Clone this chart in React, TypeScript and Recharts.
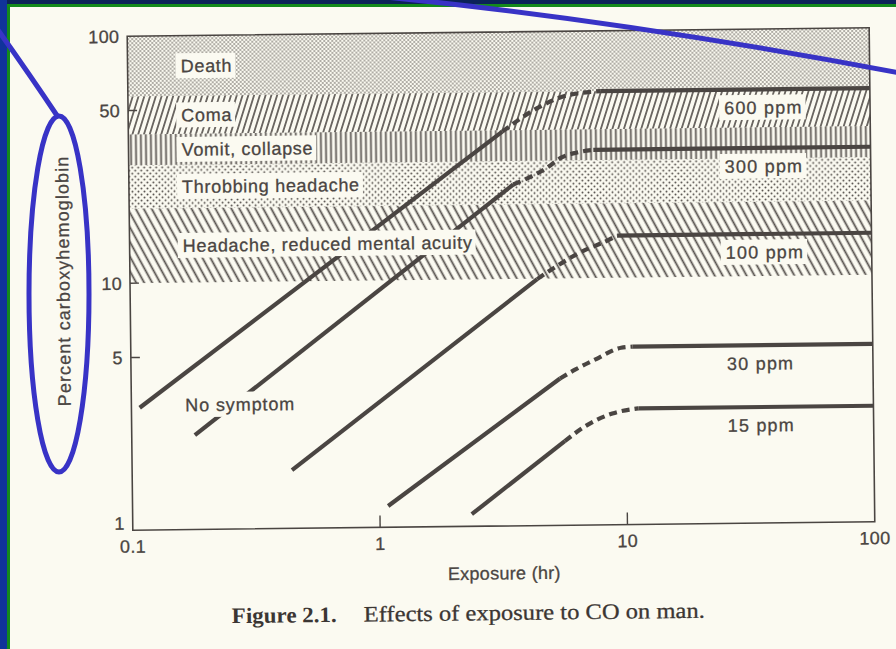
import React from "react";
import { LineChart, Line, XAxis, YAxis, ReferenceArea, ReferenceDot } from "recharts";

const PAPER = "#fbfaf1";
const INK = "#4a4542";
const HATCH = "#55504c";
const BLUE = "#3833c6";
const SANS = '"Liberation Sans", Arial, Helvetica, sans-serif';
const SERIF = '"Liberation Serif", "Times New Roman", serif';
const FS = 18;

const W = 896;
const H = 649;

// effect bands, % carboxyhemoglobin
const bandNames = ["Death", "Coma", "Vomit, collapse", "Throbbing headache", "Headache, reduced mental acuity"];
const bandLow = [57, 40, 30, 20, 10];
const bandHigh = [100, 57, 40, 30, 20];
const bandFills = ["url(#fineDots)", "url(#slash)", "url(#vertical)", "url(#coarseDots)", "url(#backslash)"];

const xTicks = [0.1, 1, 10, 100];
const yTicks = [1, 5, 10, 50, 100];

// CO curves: straight rise, dashed bend, then a flat level out to 100 hr
const ppmNames = ["600 ppm", "300 ppm", "100 ppm", "30 ppm", "15 ppm"];
const riseStartHr = [0.108, 0.18, 0.443, 1.08, 2.35];
const riseStartPct = [3.13, 2.41, 1.72, 1.22, 1.12];
const bendHr = [
  [3.25, 4.55, 5.7, 7.41, 8.13],
  [3.58, 4.92, 5.61, 6.45, 7.57],
  [4.43, 5.24, 6.62, 8.61, 9.36],
  [5.42, 6.24, 7.52, 9.6, 10.7],
  [5.63, 6.81, 8.79, 11.2],
];
const bendPct = [
  [39.5, 49.2, 54.3, 56.7, 57],
  [24.1, 28.1, 30.8, 32.2, 33],
  [9.95, 11.1, 12.7, 14.2, 14.8],
  [3.93, 4.26, 4.67, 5.2, 5.25],
  [2.19, 2.51, 2.82, 2.95],
];
const plateauPct = [57, 33, 14.8, 5.25, 2.95];

const bandLabelHr = 0.164;
const ppmLabelHr = 25.7;

let ctx: CanvasRenderingContext2D | null = null;
function textWidth(s: string, size: number, ls: number) {
  if (!ctx && typeof document !== "undefined") ctx = document.createElement("canvas").getContext("2d");
  if (!ctx) return s.length * size * 0.55 + s.length * ls;
  ctx.font = `${size}px "Liberation Sans"`;
  return ctx.measureText(s).width + s.length * ls;
}

const inkText = { fontFamily: SANS, fontSize: FS, fill: INK, stroke: INK, strokeWidth: 0.3 };

// text on a cleared patch of paper, like the printed figure
function Tag({ cx, cy, text, dy = 0, ls = 0.7 }: any) {
  if (cx == null || cy == null) return null;
  const w = textWidth(text, FS, ls);
  const y = cy + dy;
  return (
    <g>
      <rect x={cx - 5} y={y - 12.5} width={w + 8} height={25} fill={PAPER} />
      <text x={cx} y={y} dy="0.36em" letterSpacing={ls} {...inkText}>
        {text}
      </text>
    </g>
  );
}

function YTick({ x, y, payload }: any) {
  const v = payload.value;
  const axisX = x + 8;
  return (
    <g>
      {v !== 1 && v !== 100 && <line x1={axisX} x2={axisX + 9} y1={y} y2={y} stroke={INK} strokeWidth={1.4} />}
      <text x={x} y={v === 1 ? y - 7 : y} dy="0.36em" textAnchor="end" letterSpacing={0.3} {...inkText}>
        {v}
      </text>
    </g>
  );
}

function XTick({ x, y, payload }: any) {
  const v = payload.value;
  const axisY = y - 8;
  return (
    <g>
      {(v === 1 || v === 10) && <line x1={x} x2={x} y1={axisY} y2={axisY - 12} stroke={INK} strokeWidth={1.4} />}
      <text x={x} y={axisY + 16} dy="0.36em" textAnchor="middle" letterSpacing={0.3} {...inkText}>
        {v}
      </text>
    </g>
  );
}

function XTitle(props: any) {
  const vb = props.viewBox || { x: 130, y: 526, width: 742, height: 40 };
  return (
    <text x={vb.x + vb.width / 2} y={vb.y + 47} dy="0.36em" textAnchor="middle" letterSpacing={0.3} {...inkText}>
      Exposure (hr)
    </text>
  );
}

function YTitle(props: any) {
  const vb = props.viewBox || { x: 80, y: 32, width: 50, height: 494 };
  const cx = 63;
  const cy = vb.y + vb.height / 2 - 3;
  return (
    <text x={cx} y={cy} dy="0.36em" textAnchor="middle" transform={`rotate(-90, ${cx}, ${cy})`} letterSpacing={1.1} {...inkText}>
      Percent carboxyhemoglobin
    </text>
  );
}

function CoChart() {
  return (
    <LineChart width={W} height={H} margin={{ top: 32, right: 24, bottom: 83, left: 80 }}>
      <defs>
        <pattern id="fineDots" width="4" height="4" patternUnits="userSpaceOnUse">
          <circle cx="1" cy="1" r="0.8" fill="#4d4844" />
          <circle cx="3" cy="3" r="0.8" fill="#4d4844" />
        </pattern>
        <pattern id="coarseDots" width="6" height="6" patternUnits="userSpaceOnUse">
          <circle cx="1.5" cy="1.5" r="1" fill={HATCH} />
          <circle cx="4.5" cy="4.5" r="1" fill={HATCH} />
        </pattern>
        <pattern id="slash" width="5.5" height="10" patternUnits="userSpaceOnUse" patternTransform="rotate(18)">
          <line x1="2.75" y1="0" x2="2.75" y2="10" stroke={HATCH} strokeWidth="1.6" />
        </pattern>
        <pattern id="vertical" width="5" height="10" patternUnits="userSpaceOnUse">
          <line x1="2.5" y1="0" x2="2.5" y2="10" stroke={HATCH} strokeWidth="1.7" />
        </pattern>
        <pattern id="backslash" width="7" height="10" patternUnits="userSpaceOnUse" patternTransform="rotate(-28)">
          <line x1="3.5" y1="0" x2="3.5" y2="10" stroke={HATCH} strokeWidth="1.8" />
        </pattern>
      </defs>

      <XAxis
        type="number"
        dataKey="t"
        scale="log"
        domain={[0.1, 100]}
        ticks={xTicks}
        interval={0}
        allowDataOverflow
        axisLine={false}
        tickLine={false}
        tickSize={0}
        tickMargin={8}
        height={40}
        tick={<XTick />}
        label={{ content: (p: any) => <XTitle {...p} /> }}
      />
      <YAxis
        type="number"
        dataKey="c"
        scale="log"
        domain={[1, 100]}
        ticks={yTicks}
        interval={0}
        allowDataOverflow
        axisLine={false}
        tickLine={false}
        tickSize={0}
        tickMargin={8}
        width={50}
        tick={<YTick />}
        label={{ content: (p: any) => <YTitle {...p} /> }}
      />

      {bandNames.map((name, i) => (
        <ReferenceArea key={name} x1={0.1} x2={100} y1={bandLow[i]} y2={bandHigh[i]} fill={bandFills[i]} fillOpacity={1} stroke="none" />
      ))}

      {ppmNames.map((name, i) => {
        const rise = [
          { t: riseStartHr[i], c: riseStartPct[i] },
          { t: bendHr[i][0], c: bendPct[i][0] },
        ];
        const bend = bendHr[i].map((t, j) => ({ t, c: bendPct[i][j] }));
        const flat = [
          { t: bendHr[i][bendHr[i].length - 1], c: plateauPct[i] },
          { t: 100, c: plateauPct[i] },
        ];
        return [
          <Line key={name + "-rise"} data={rise} dataKey="c" type="linear" stroke={INK} strokeWidth={4.2} dot={false} activeDot={false} isAnimationActive={false} legendType="none" />,
          <Line key={name + "-bend"} data={bend} dataKey="c" type="monotone" stroke={INK} strokeWidth={4.2} strokeDasharray="8 5" dot={false} activeDot={false} isAnimationActive={false} legendType="none" />,
          <Line key={name + "-flat"} data={flat} dataKey="c" type="linear" stroke={INK} strokeWidth={4.2} dot={false} activeDot={false} isAnimationActive={false} legendType="none" />,
        ];
      })}

      <ReferenceArea x1={0.1} x2={100} y1={1} y2={100} fill="none" stroke={INK} strokeWidth={1.6} />

      {bandNames.map((name, i) => (
        <ReferenceDot
          key={"tag-" + name}
          x={bandLabelHr}
          y={Math.sqrt(bandLow[i] * bandHigh[i])}
          r={0}
          zIndex={2500}
          shape={(p: any) => <Tag cx={p.cx} cy={p.cy} text={name} />}
        />
      ))}
      {ppmNames.map((name, i) => (
        <ReferenceDot
          key={"tag-" + name}
          x={ppmLabelHr}
          y={plateauPct[i]}
          r={0}
          zIndex={2500}
          shape={(p: any) => <Tag cx={p.cx} cy={p.cy} dy={18} text={name} ls={1.2} />}
        />
      ))}
      <ReferenceDot x={0.165} y={3.2} r={0} zIndex={2500} shape={(p: any) => <Tag cx={p.cx} cy={p.cy} text="No symptom" ls={0.9} />} />
    </LineChart>
  );
}

export default function App() {
  return (
    <div style={{ position: "fixed", left: 0, top: 0, width: W, height: H, background: PAPER, overflow: "hidden" }}>
      <div style={{ position: "absolute", left: 0, top: 0, width: W, height: H, transform: "rotate(-0.65deg)", transformOrigin: "501px 280px" }}>
        <div style={{ position: "absolute", left: 0, top: 0 }}>
          <CoChart />
        </div>
        <svg width={W} height={H} style={{ position: "absolute", left: 0, top: 0 }}>
          <text x={228} y={620} fontFamily={SERIF} fontWeight="bold" fontSize={22} textLength={105} lengthAdjust="spacingAndGlyphs" fill="#3b3633">
            Figure 2.1.
          </text>
          <text x={360} y={620} fontFamily={SERIF} fontSize={22} textLength={341} lengthAdjust="spacingAndGlyphs" fill="#3b3633" stroke="#3b3633" strokeWidth={0.3}>
            Effects of exposure to CO on man.
          </text>
        </svg>
      </div>

      {/* scan frame */}
      <div style={{ position: "absolute", left: 0, top: 0, width: W, height: 4, background: "#0b2258" }} />
      <div style={{ position: "absolute", left: 0, top: 0, width: 7, height: H, background: "#10339a" }} />
      <div style={{ position: "absolute", left: 7, top: 4, width: W - 7, height: 2.5, background: "#138a1c" }} />
      <div style={{ position: "absolute", left: 7, top: 4, width: 2.5, height: H - 4, background: "#138a1c" }} />

      {/* hand-drawn blue marks */}
      <svg width={W} height={H} style={{ position: "absolute", left: 0, top: 0, pointerEvents: "none" }}>
        <ellipse cx={59} cy={294} rx={30} ry={178} fill="none" stroke={BLUE} strokeWidth={5} />
        <path d="M -2 30 Q 30 75 58 117" fill="none" stroke={BLUE} strokeWidth={5} />
        <path d="M 385 -3 Q 620 20 900 73" fill="none" stroke={BLUE} strokeWidth={5} />
      </svg>
    </div>
  );
}
